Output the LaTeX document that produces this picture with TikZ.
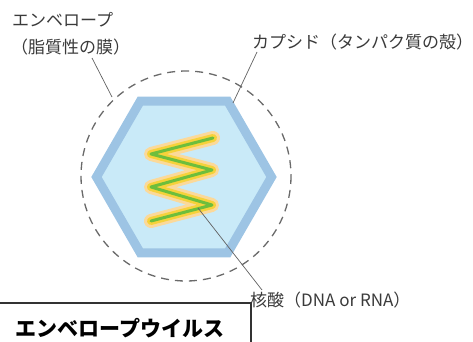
\documentclass[tikz,border=0pt]{standalone}
\usepackage{fontspec}
\setmainfont{Noto Sans CJK JP}
\usetikzlibrary{calc}
\definecolor{labelgray}{HTML}{3A3A3A}
\definecolor{capsidfill}{HTML}{C9EAF8}
\definecolor{capsidedge}{HTML}{9DC4E4}
\definecolor{rnaglow}{HTML}{FBD99A}
\definecolor{rnayellow}{HTML}{F6D23A}
\definecolor{rnagreen}{HTML}{6DBE3C}
\definecolor{envgray}{HTML}{6A6A6A}
\tikzset{
  label/.style={font=\fontsize{17}{19}\selectfont, text=labelgray, inner sep=0pt},
  leader/.style={draw=labelgray!80, line width=0.7pt},
  envelope/.style={draw=envgray, line width=1.3pt, dash pattern=on 8pt off 6pt},
  capsid/.style={fill=capsidfill, draw=capsidedge, line width=9pt, line join=miter},
  strand/.style={line join=round, line cap=round},
  titlebox/.style={draw=black!80, line width=1.2pt},
}
\begin{document}
\begin{tikzpicture}[x=1pt,y=-1pt]
\useasboundingbox (0,0) rectangle (473,342);

% virus body
\coordinate (c) at (184,177);
\draw[envelope] (186,176) circle [radius=105];
\draw[capsid] ($(c)+(0:87.5)$) -- ($(c)+(60:87.5)$) -- ($(c)+(120:87.5)$)
  -- ($(c)+(180:87.5)$) -- ($(c)+(240:87.5)$) -- ($(c)+(300:87.5)$) -- cycle;

% nucleic acid strand
\def\strandpath{(213,138) -- (151,154) -- (212,170) -- (151,187) -- (212,205) -- (151,221)}
\draw[strand, draw=rnaglow, line width=14pt] \strandpath;
\draw[strand, draw=rnayellow, line width=8pt] \strandpath;
\draw[strand, draw=rnagreen, line width=3pt] \strandpath;

% leader end points
\coordinate (envpt) at (112,97);
\coordinate (cappt) at (233,103);
\coordinate (napt) at (198,208);

% labels
\node[label, anchor=west] (envA) at (12,20) {エンベロープ};
\node[label, anchor=west] (envB) at (11,47) {（脂質性の膜）};
\node[label, anchor=west] (cap) at (252,42) {カプシド（タンパク質の殻）};
\node[label, anchor=west] (na) at (250,300) {核酸（DNA or RNA）};

\coordinate (envstart) at (92,58);
\coordinate (capstart) at (257,52);
\coordinate (nastart) at (262,290);
\draw[leader] (envstart) -- (envpt);
\draw[leader] (capstart) -- (cappt);
\draw[leader] (nastart) -- (napt);

% title box
\draw[titlebox] (-2,303) -- (251,303) -- (251,344);
\node[font=\fontsize{21}{23}\selectfont\bfseries, inner sep=0pt] (title) at (120,328) {エンベロープウイルス};
\end{tikzpicture}
\end{document}
